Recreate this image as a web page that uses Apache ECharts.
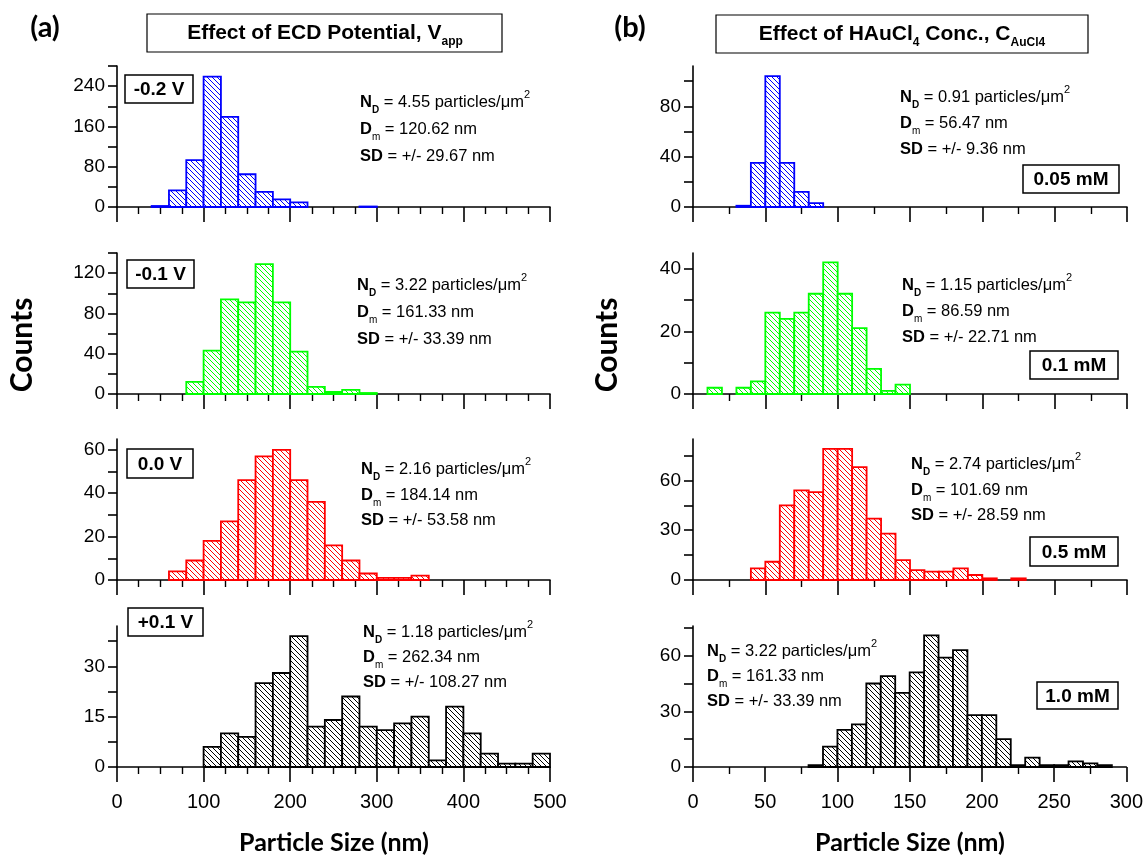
<!DOCTYPE html>
<html>
<head>
<meta charset="utf-8">
<script src="https://cdn.jsdelivr.net/npm/echarts@6/dist/echarts.min.js"></script>
<style>
  html, body { margin: 0; padding: 0; background: #fff; }
  #chart { width: 1146px; height: 856px; }
</style>
</head>
<body>
<div id="chart"></div>
<script>
// ---- (a) Effect of ECD potential: 20 nm bins ----
const potentialLabels = ['-0.2 V', '-0.1 V', '0.0 V', '+0.1 V'];
const potentialColors = ['#0000ff', '#00ff00', '#ff0000', '#000000'];
const potentialBinStart = [40, 80, 60, 100];
const potentialBinWidth = 20;
const countsNeg02V = [2, 33, 93, 259, 179, 65, 30, 15, 9, 0, 0, 0, 1];
const countsNeg01V = [12, 43, 94, 91, 129, 91, 42, 7, 2, 4, 1];
const counts00V = [4, 9, 18, 27, 46, 57, 60, 46, 36, 16, 9, 3, 1, 1, 2];
const countsPos01V = [6, 10, 9, 25, 28, 39, 12, 14, 21, 12, 11, 13, 15, 2, 18, 10, 4, 1, 1, 4];
const potentialND = ['4.55', '3.22', '2.16', '1.18'];
const potentialDm = ['120.62', '161.33', '184.14', '262.34'];
const potentialSD = ['29.67', '33.39', '53.58', '108.27'];
const potentialYMax = [280, 140, 65, 42];
const potentialYStep = [80, 40, 20, 15];
const potentialXTicks = [0, 100, 200, 300, 400, 500];

// ---- (b) Effect of HAuCl4 concentration: 10 nm bins ----
const concLabels = ['0.05 mM', '0.1 mM', '0.5 mM', '1.0 mM'];
const concColors = ['#0000ff', '#00ff00', '#ff0000', '#000000'];
const concBinStart = [30, 10, 40, 80];
const concBinWidth = 10;
const counts005mM = [1, 35, 104, 35, 12, 3];
const counts01mM = [2, 0, 2, 4, 26, 24, 26, 32, 42, 32, 21, 8, 1, 3];
const counts05mM = [7, 11, 45, 54, 53, 79, 79, 68, 37, 28, 12, 6, 5, 5, 7, 3, 1, 0, 1];
const counts10mM = [1, 11, 20, 23, 45, 49, 40, 51, 71, 59, 63, 28, 28, 15, 1, 5, 1, 1, 3, 2, 1];
const concND = ['0.91', '1.15', '2.74', '3.22'];
const concDm = ['56.47', '86.59', '101.69', '161.33'];
const concSD = ['9.36', '22.71', '28.59', '33.39'];
const concYMax = [112, 45, 85, 76];
const concYStep = [40, 20, 30, 30];
const concXTicks = [0, 50, 100, 150, 200, 250, 300];

// ---- layout ----
const FONT = "'Liberation Sans', Arial, sans-serif";
const TITLE_FONT = "Lato, 'Open Sans', sans-serif";
const colLeft = [117, 693];
const colWidth = [433, 434];
const rowTop = [66, 253, 439, 626];
const rowHeight = 141;
const statsX = [[360, 357, 361, 363], [900, 902, 911, 707]];
const statsY = [
  [[102, 129, 156], [285, 312, 339], [469, 495, 520], [632, 657, 682]],
  [[97, 123, 149], [285, 311, 337], [464, 490, 515], [651, 676, 701]]
];
const tagBoxes = [
  [[125, 75, 193, 103], [127, 260, 194, 288], [127, 449, 193, 478], [128, 608, 203, 636]],
  [[1023, 165, 1119, 193], [1030, 351, 1118, 379], [1030, 537, 1118, 566], [1037, 682, 1118, 709]]
];

// diagonal "\" hatch used to fill the histogram bars
function hatch(color) {
  const s = 5;
  const cv = document.createElement('canvas');
  cv.width = s; cv.height = s;
  const ctx = cv.getContext('2d');
  ctx.fillStyle = '#ffffff';
  ctx.fillRect(0, 0, s, s);
  ctx.strokeStyle = color;
  ctx.lineWidth = 1;
  ctx.beginPath();
  for (const o of [-s, 0, s]) { ctx.moveTo(o, 0); ctx.lineTo(o + s, s); }
  ctx.stroke();
  return { image: cv, repeat: 'repeat' };
}

function multiples(step, max) {
  const out = [];
  for (let v = 0; v <= max + 1e-9; v += step) out.push(+v.toFixed(4));
  return out;
}

const columns = [
  {
    labels: potentialLabels, colors: potentialColors, start: potentialBinStart, width: potentialBinWidth,
    counts: [countsNeg02V, countsNeg01V, counts00V, countsPos01V],
    nd: potentialND, dm: potentialDm, sd: potentialSD, ymax: potentialYMax, ystep: potentialYStep,
    xticks: potentialXTicks, minorSplit: 4
  },
  {
    labels: concLabels, colors: concColors, start: concBinStart, width: concBinWidth,
    counts: [counts005mM, counts01mM, counts05mM, counts10mM],
    nd: concND, dm: concDm, sd: concSD, ymax: concYMax, ystep: concYStep,
    xticks: concXTicks, minorSplit: 2
  }
];

const grid = [], xAxis = [], yAxis = [], series = [], graphic = [];

columns.forEach((col, c) => {
  for (let r = 0; r < 4; r++) {
    const idx = grid.length;
    grid.push({ left: colLeft[c], top: rowTop[r], width: colWidth[c], height: rowHeight });
    const xt = col.xticks;
    xAxis.push({
      gridIndex: idx, type: 'value', min: xt[0], max: xt[xt.length - 1], interval: xt[1] - xt[0],
      axisLine: { show: true, onZero: false, lineStyle: { color: '#000', width: 1.6 } },
      axisTick: { show: true, inside: false, length: 15, lineStyle: { color: '#000', width: 1.6 } },
      minorTick: { show: true, splitNumber: col.minorSplit, length: 7, lineStyle: { color: '#000', width: 1.4 } },
      axisLabel: { show: r === 3, margin: 25, fontSize: 20, color: '#000', fontFamily: FONT },
      splitLine: { show: false }, minorSplitLine: { show: false }
    });
    const ymax = col.ymax[r], ystep = col.ystep[r];
    yAxis.push({
      gridIndex: idx, type: 'value', min: 0, max: ymax,
      axisLine: { show: true, onZero: false, lineStyle: { color: '#000', width: 1.6 } },
      axisTick: { show: true, inside: false, length: 9, customValues: multiples(ystep / 2, ymax), lineStyle: { color: '#000', width: 1.6 } },
      axisLabel: { show: true, margin: 12, fontSize: 19, color: '#000', fontFamily: FONT, customValues: multiples(ystep, ymax) },
      splitLine: { show: false }
    });

    const color = col.colors[r];
    const pattern = hatch(color);
    const data = [];
    col.counts[r].forEach((n, k) => {
      if (n > 0) data.push([col.start[r] + k * col.width, col.start[r] + (k + 1) * col.width, n]);
    });
    series.push({
      type: 'custom', xAxisIndex: idx, yAxisIndex: idx,
      encode: { x: [0, 1], y: 2 },
      data: data,
      renderItem: function (params, api) {
        const top = api.coord([api.value(0), api.value(2)]);
        const base = api.coord([api.value(1), 0]);
        return {
          type: 'rect',
          shape: { x: top[0], y: top[1], width: base[0] - top[0], height: base[1] - top[1] },
          style: { fill: pattern, stroke: color, lineWidth: 1.8 }
        };
      }
    });

    // statistics text
    const sx = statsX[c][r], sy = statsY[c][r];
    const rich = {
      b: { fontFamily: FONT, fontSize: 16.5, fontWeight: 'bold', color: '#000', lineHeight: 26 },
      r: { fontFamily: FONT, fontSize: 16.5, color: '#000', lineHeight: 26 },
      bs: { fontFamily: FONT, fontSize: 10, fontWeight: 'bold', color: '#000', lineHeight: 10, verticalAlign: 'bottom' },
      rs: { fontFamily: FONT, fontSize: 10, color: '#000', lineHeight: 10, verticalAlign: 'bottom' },
      sup: { fontFamily: FONT, fontSize: 11, color: '#000', lineHeight: 11, verticalAlign: 'top' }
    };
    graphic.push({ type: 'text', x: sx, y: sy[0], style: { text: '{b|N}{bs|D}{r| = ' + col.nd[r] + ' particles/μm}{sup|2}', rich: rich, verticalAlign: 'middle', align: 'left' } });
    graphic.push({ type: 'text', x: sx, y: sy[1], style: { text: '{b|D}{rs|m}{r| = ' + col.dm[r] + ' nm}', rich: rich, verticalAlign: 'middle', align: 'left' } });
    graphic.push({ type: 'text', x: sx, y: sy[2], style: { text: '{b|SD}{r| = +/- ' + col.sd[r] + ' nm}', rich: rich, verticalAlign: 'middle', align: 'left' } });

    // condition tag
    const bx = tagBoxes[c][r];
    graphic.push({ type: 'rect', shape: { x: bx[0], y: bx[1], width: bx[2] - bx[0], height: bx[3] - bx[1] }, style: { fill: '#fff', stroke: '#000', lineWidth: 1.5 }, z: 10 });
    graphic.push({ type: 'text', x: (bx[0] + bx[2]) / 2, y: (bx[1] + bx[3]) / 2 + 1, z: 11, style: { text: col.labels[r], fontFamily: FONT, fontSize: 19, fontWeight: 'bold', fill: '#000', align: 'center', verticalAlign: 'middle' } });
  }
});

// panel letters, header boxes, axis names
const headRich = {
  t: { fontFamily: FONT, fontSize: 21, fontWeight: 'bold', color: '#000', lineHeight: 30 },
  s: { fontFamily: FONT, fontSize: 12, fontWeight: 'bold', color: '#000', lineHeight: 12, verticalAlign: 'bottom' }
};
graphic.push(
  { type: 'text', x: 45, y: 28, style: { text: '(a)', fontFamily: TITLE_FONT, fontSize: 29, fontWeight: 'bold', fill: '#000', align: 'center', verticalAlign: 'middle' } },
  { type: 'text', x: 630, y: 28, style: { text: '(b)', fontFamily: TITLE_FONT, fontSize: 29, fontWeight: 'bold', fill: '#000', align: 'center', verticalAlign: 'middle' } },
  { type: 'rect', shape: { x: 147, y: 14, width: 355, height: 38 }, style: { fill: '#fff', stroke: '#000', lineWidth: 1.2 } },
  { type: 'text', x: 325, y: 33, z: 5, style: { text: '{t|Effect of ECD Potential, V}{s|app}', rich: headRich, align: 'center', verticalAlign: 'middle' } },
  { type: 'rect', shape: { x: 716, y: 15, width: 372, height: 38 }, style: { fill: '#fff', stroke: '#000', lineWidth: 1.2 } },
  { type: 'text', x: 902, y: 34, z: 5, style: { text: '{t|Effect of HAuCl}{s|4}{t| Conc., C}{s|AuCl4}', rich: headRich, align: 'center', verticalAlign: 'middle' } },
  { type: 'text', x: 22, y: 345, rotation: Math.PI / 2, style: { text: 'Counts', fontFamily: TITLE_FONT, fontSize: 30, fontWeight: 'bold', fill: '#000', align: 'center', verticalAlign: 'middle' } },
  { type: 'text', x: 607, y: 345, rotation: Math.PI / 2, style: { text: 'Counts', fontFamily: TITLE_FONT, fontSize: 30, fontWeight: 'bold', fill: '#000', align: 'center', verticalAlign: 'middle' } },
  { type: 'text', x: 334, y: 843, style: { text: 'Particle Size (nm)', fontFamily: TITLE_FONT, fontSize: 25, fontWeight: 'bold', fill: '#000', align: 'center', verticalAlign: 'middle' } },
  { type: 'text', x: 910, y: 843, style: { text: 'Particle Size (nm)', fontFamily: TITLE_FONT, fontSize: 25, fontWeight: 'bold', fill: '#000', align: 'center', verticalAlign: 'middle' } }
);

const chart = echarts.init(document.getElementById('chart'), null, { renderer: 'canvas' });
chart.setOption({
  backgroundColor: '#fff',
  animation: false,
  grid: grid,
  xAxis: xAxis,
  yAxis: yAxis,
  series: series,
  graphic: graphic
});
</script>
</body>
</html>
